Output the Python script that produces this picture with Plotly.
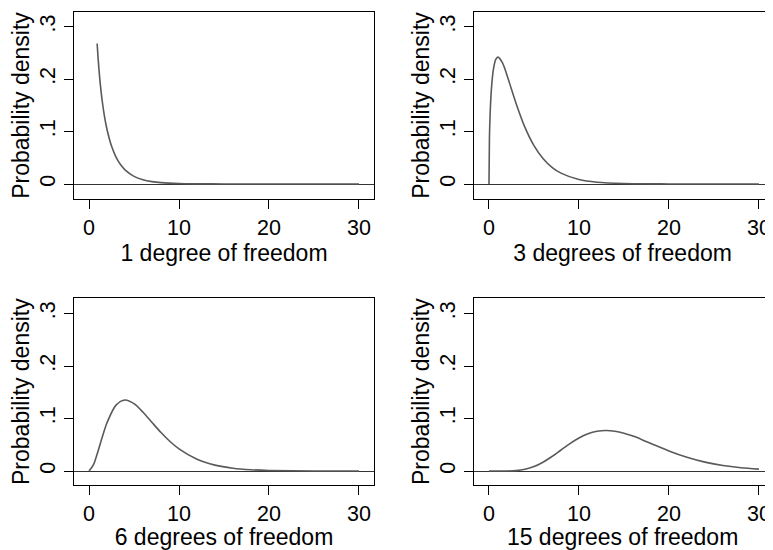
import plotly.graph_objects as go

# Values (chi-square densities)
x_df1 = [0.9, 1.0, 1.1, 1.25, 1.5, 1.75, 2.0, 2.5, 3.0, 3.5, 4.0, 5.0, 6.0, 7.0, 8.0, 10.0, 12.0, 15.0, 20.0, 25.0, 30.0]
y_df1 = [0.268, 0.242, 0.2195, 0.191, 0.154, 0.1257, 0.104, 0.0723, 0.0514, 0.0371, 0.0270, 0.0146, 0.0081, 0.0046, 0.0026, 0.00085, 0.0003, 0.0001, 0.0, 0.0, 0.0]

x_df3 = [0.0, 0.05, 0.1, 0.2, 0.35, 0.5, 0.75, 1.0, 1.5, 2.0, 2.5, 3.0, 4.0, 5.0, 6.0, 7.0, 8.0, 10.0, 12.0, 15.0, 20.0, 25.0, 30.0]
y_df3 = [0.0, 0.087, 0.120, 0.1614, 0.198, 0.2197, 0.2375, 0.242, 0.2308, 0.2076, 0.1807, 0.1542, 0.108, 0.0732, 0.0487, 0.0319, 0.0207, 0.0085, 0.0034, 0.00085, 0.0001, 0.0, 0.0]

x_df6 = [0.0, 0.5, 1.0, 1.5, 2.0, 3.0, 4.0, 5.0, 6.0, 7.0, 8.0, 9.0, 10.0, 12.0, 14.0, 16.0, 18.0, 20.0, 25.0, 30.0]
y_df6 = [0.0, 0.0122, 0.0379, 0.0664, 0.092, 0.1255, 0.1353, 0.1283, 0.112, 0.0925, 0.0733, 0.0562, 0.0421, 0.0223, 0.0112, 0.0054, 0.0025, 0.0011, 0.00015, 0.00003]

x_df15 = [0.0, 2.0, 3.0, 4.0, 5.0, 6.0, 7.0, 8.0, 9.0, 10.0, 11.0, 12.0, 13.0, 14.0, 15.0, 16.0, 17.0, 18.0, 20.0, 22.0, 24.0, 26.0, 28.0, 30.0]
y_df15 = [0.0, 0.0001, 0.0008, 0.0033, 0.0085, 0.0168, 0.0277, 0.0401, 0.0523, 0.0629, 0.0709, 0.0757, 0.0772, 0.0758, 0.0720, 0.0665, 0.0598, 0.0526, 0.0383, 0.0262, 0.0170, 0.0105, 0.0063, 0.0036]

panel_titles = ["1 degree of freedom", "3 degrees of freedom", "6 degrees of freedom", "15 degrees of freedom"]
x_ticks = [0, 10, 20, 30]
x_ticklabels = ["0", "10", "20", "30"]
y_ticks = [0, 0.1, 0.2, 0.3]
y_ticklabels = ["0", ".1", ".2", ".3"]
y_title = "Probability density"

series = [(x_df1, y_df1), (x_df3, y_df3), (x_df6, y_df6), (x_df15, y_df15)]

# The page body has an 8px margin, so the figure is shrunk by it and
# reference pixel positions are shifted by it.
OFF = 8
W, H = 773 - OFF, 550 - OFF
# panel frames in reference pixels: (left, right, top, bottom)
frames = [(74, 374, 12, 199), (473.7, 771.5, 12, 199),
          (74, 374, 298.3, 485), (473.7, 771.5, 298.3, 485)]
xranges = [(-1.67, 31.67), (-1.7, 31.4), (-1.67, 31.67), (-1.7, 31.4)]
yranges = [(-0.0286, 0.328), (-0.0286, 0.328), (-0.0266, 0.329), (-0.0266, 0.329)]

FONT = "Liberation Sans, Arial, Helvetica, sans-serif"
TICK_SIZE = 21.5
TITLE_SIZE = 23
fig = go.Figure()
layout = dict(width=W, height=H, margin=dict(l=0, r=0, t=0, b=0),
              paper_bgcolor="white", plot_bgcolor="white", showlegend=False,
              font=dict(family=FONT, size=TICK_SIZE, color="black"))

for i, ((xs, ys), fr) in enumerate(zip(series, frames)):
    n = "" if i == 0 else str(i + 1)
    xa, ya = "x" + n, "y" + n
    fig.add_trace(go.Scatter(x=xs, y=ys, mode="lines", xaxis=xa, yaxis=ya,
                             line=dict(color="#5a5a5a", width=1.6, shape="spline", smoothing=0.8),
                             hoverinfo="skip"))
    l, r, t, b = [v - OFF for v in fr]
    layout["xaxis" + n] = dict(domain=[l / W, r / W], anchor=ya, range=list(xranges[i]),
                               tickvals=x_ticks, ticktext=x_ticklabels, ticks="outside", ticklen=9,
                               tickcolor="black", showline=True, linecolor="black", linewidth=1,
                               mirror=True, showgrid=False, zeroline=False,
                               title=dict(text=panel_titles[i], standoff=0, font=dict(size=TITLE_SIZE)),
                               tickfont=dict(size=TICK_SIZE))
    layout["yaxis" + n] = dict(domain=[1 - b / H, 1 - t / H], anchor=xa, range=list(yranges[i]),
                               tickvals=y_ticks, ticktext=y_ticklabels, ticks="outside", ticklen=9,
                               tickcolor="black", tickangle=-90, showline=True, linecolor="black",
                               linewidth=1, mirror=True, showgrid=False, zeroline=True,
                               zerolinecolor="#333333", zerolinewidth=1,
                               title=dict(text=y_title, standoff=0, font=dict(size=TITLE_SIZE)),
                               tickfont=dict(size=TICK_SIZE))

fig.update_layout(**layout)
fig.write_html("out.html")
